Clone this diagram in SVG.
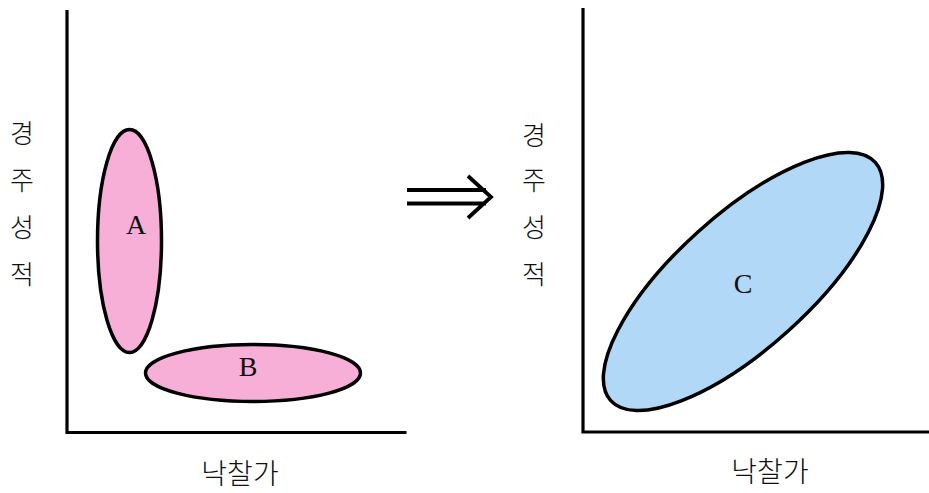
<svg xmlns="http://www.w3.org/2000/svg" width="929" height="493" viewBox="0 0 929 493">
<style>
.axis{fill:none;stroke:#000;stroke-width:3.2;stroke-linecap:butt}
.ell{stroke:#000;stroke-width:3.5}
.pink{fill:#F7AED7}
.blue{fill:#B1D9F7}
.lbl{font-family:"Liberation Serif","DejaVu Serif",serif;font-size:28px;fill:#111;text-anchor:middle;dominant-baseline:central}
.ko{font-family:"Noto Sans CJK KR","Noto Sans",sans-serif;font-size:26px;font-weight:300;fill:#111;text-anchor:middle;dominant-baseline:central}
.kob{font-family:"Noto Sans CJK KR","Noto Sans",sans-serif;font-size:28px;font-weight:300;fill:#111;text-anchor:middle;dominant-baseline:central}
.arr{fill:none;stroke:#000;stroke-width:3.8;stroke-linecap:butt;stroke-linejoin:miter}
</style>
<rect width="929" height="493" fill="#fff"/>
<g id="left-axes">
<path class="axis" d="M67,10 V432.5 H406.5"/>
<text class="ko" x="22" y="131">경</text>
<text class="ko" x="22" y="178">주</text>
<text class="ko" x="22" y="225">성</text>
<text class="ko" x="22" y="272">적</text>
<text class="kob" x="240" y="472">낙찰가</text>
</g>
<g id="node-A">
<ellipse class="ell pink" cx="129.5" cy="241" rx="32" ry="111.5"/>
<text class="lbl" x="136" y="224">A</text>
</g>
<g id="node-B">
<ellipse class="ell pink" cx="253" cy="373" rx="107.5" ry="28.5"/>
<text class="lbl" x="248" y="366">B</text>
</g>
<g id="connectors">
<path class="arr" d="M407,190 H486 M407,203.5 H486 M468,176 L491,197 L468,218"/>
</g>
<g id="right-axes">
<path class="axis" d="M583,8 V432 H929"/>
<text class="ko" x="534" y="133">경</text>
<text class="ko" x="534" y="178">주</text>
<text class="ko" x="534" y="225">성</text>
<text class="ko" x="534" y="272">적</text>
<text class="kob" x="770" y="470">낙찰가</text>
</g>
<g id="node-C">
<ellipse class="ell blue" cx="743" cy="281.5" rx="178" ry="67" transform="rotate(-42 743 281.5)"/>
<text class="lbl" x="743" y="283">C</text>
</g>
</svg>
